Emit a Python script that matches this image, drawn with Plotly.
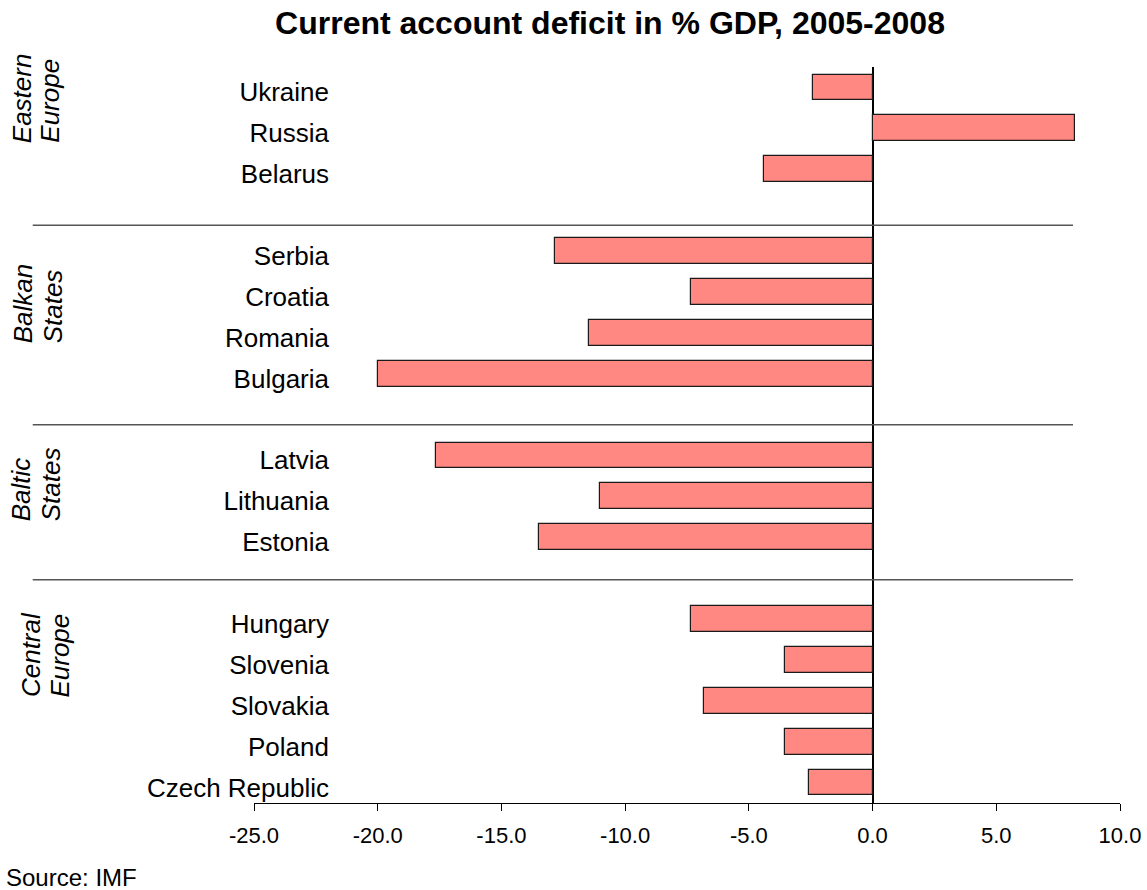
import plotly.graph_objects as go

# Current account balance, % of GDP, average 2005-2008 (IMF)
groups = ["Central Europe", "Baltic States", "Balkan States", "Eastern Europe"]
group_lines = [["Central", "Europe"], ["Baltic", "States"], ["Balkan", "States"], ["Eastern", "Europe"]]
countries = [
    ["Czech Republic", "Poland", "Slovakia", "Slovenia", "Hungary"],
    ["Estonia", "Lithuania", "Latvia"],
    ["Bulgaria", "Romania", "Croatia", "Serbia"],
    ["Belarus", "Russia", "Ukraine"],
]
values = [
    [-2.55, -3.55, -6.8, -3.55, -7.35],
    [-13.5, -11.0, -17.65],
    [-20.0, -11.45, -7.35, -12.85],
    [-4.4, 8.2, -2.4],
]
x_ticks = [-25, -20, -15, -10, -5, 0, 5, 10]

FONT = "Liberation Sans"
BAR_FILL = "#FF8882"

# Stack the countries bottom-up, leaving one empty slot between groups
names, vals, pos = [], [], []
slot = 0
for cs, vs in zip(countries, values):
    for c, v in zip(cs, vs):
        names.append(c)
        vals.append(v)
        pos.append(slot)
        slot += 1
    slot += 1

fig = go.Figure()
fig.add_trace(go.Bar(
    x=vals, y=pos, orientation="h", width=0.63,
    marker=dict(color=BAR_FILL, line=dict(color="#1a1a1a", width=1.2)),
    hovertext=names, hoverinfo="text+x", showlegend=False,
))

# Thin rules separating the regional groups
sep_y = [4.96, 8.75, 13.63]
shapes = [
    dict(type="line", xref="paper", yref="y", x0=-0.2555, x1=0.9457, y0=y, y1=y,
         line=dict(color="#555555", width=1.5))
    for y in sep_y
]

# Rotated, italic group captions (two lines each, aligned at their start)
label_bottom = [2.03, 6.33, 10.68, 15.6]
label_x_px = [(31, 60), (20.5, 50.5), (22.5, 52.5), (21.5, 50)]
annotations = []
for lines, yb, xs in zip(group_lines, label_bottom, label_x_px):
    for line, xp in zip(lines, xs):
        annotations.append(dict(
            text=f"<i>{line}</i>", xref="paper", yref="y",
            x=(xp - 254) / 866, y=yb, xanchor="center", yanchor="bottom",
            textangle=-90, showarrow=False,
            font=dict(family=FONT, size=26, color="black"),
        ))

annotations.append(dict(
    text="Source: IMF", xref="paper", yref="paper",
    x=(4 - 254) / 866, y=(803 - 877) / 736, xanchor="left", yanchor="middle",
    showarrow=False, font=dict(family=FONT, size=24, color="black"),
))

# Country names sit a little below the bar centres
label_drop = 0.12

fig.update_layout(
    width=1147, height=890,
    margin=dict(l=254, r=27, t=67, b=87),
    paper_bgcolor="white", plot_bgcolor="white",
    title=dict(
        text="<b>Current account deficit in % GDP, 2005-2008</b>",
        x=610 / 1147, xanchor="center", xref="container",
        y=1 - 23 / 890, yanchor="middle", yref="container",
        font=dict(family=FONT, size=32, color="black"),
    ),
    xaxis=dict(
        range=[-25, 10], tickvals=x_ticks, ticktext=[f"{v:.1f}" for v in x_ticks],
        showline=True, linecolor="black", linewidth=1.2,
        ticks="outside", ticklen=7, tickcolor="black", tickwidth=1.2,
        ticklabelstandoff=5,
        showgrid=False, zeroline=True, zerolinecolor="black", zerolinewidth=1.5,
        tickfont=dict(family=FONT, size=22, color="black"),
        automargin=False,
    ),
    yaxis=dict(
        range=[-0.5, 17.5], tickvals=[p - label_drop for p in pos], ticktext=names,
        anchor="free", position=(329 - 254) / 866,
        showline=False, showgrid=False, zeroline=False, ticks="",
        tickfont=dict(family=FONT, size=26, color="black"),
        automargin=False,
    ),
    shapes=shapes,
    annotations=annotations,
    bargap=0,
)

fig.write_html("out.html")
